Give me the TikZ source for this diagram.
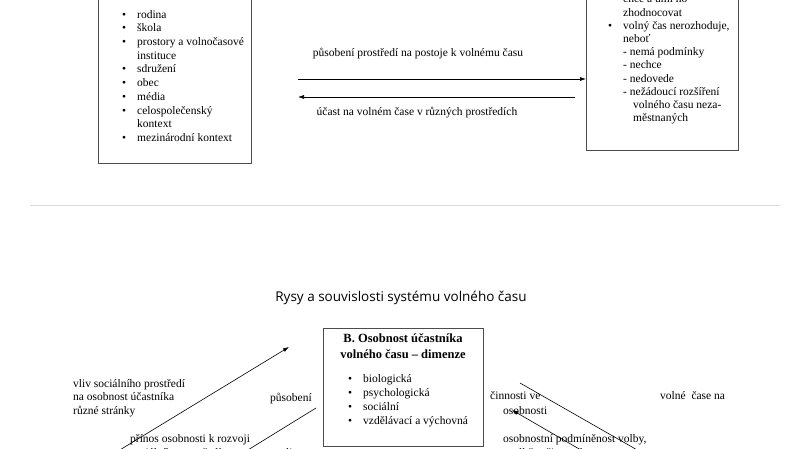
\documentclass[tikz,border=0pt]{standalone}
\usepackage{fontspec}
\setmainfont{Liberation Serif}
\newfontfamily\titlefont{Open Sans}
\usetikzlibrary{arrows.meta}
\newcommand\bitem{\makebox[15pt][l]{\textbullet}}
\newcommand\bcont{\hspace{15pt}}
\begin{document}
\begin{tikzpicture}[
    x=1pt, y=-1pt,
    box/.style={draw=black!70, line width=0.9pt, inner sep=0pt, anchor=north west},
    txt/.style={font=\fontsize{11.5}{13.7}\selectfont, inner sep=0pt, align=left, anchor=base west},
    arr/.style={-{Latex[length=6pt,width=4pt]}, line width=0.6pt},
]
    \path[use as bounding box, clip] (0,0) rectangle (800,449);
    \fill[white] (0,0) rectangle (800,449);

    % Upper part: environment and activity
    % (multi-line texts are placed by the baseline of their last line)
    \node[box, minimum width=153pt, minimum height=183pt] (envbox) at (98,-20) {};
    \node[txt] (envlist) at (122,141.5) {\bitem rodina\\ \bitem škola\\
        \bitem prostory a volnočasové\\ \bcont instituce\\ \bitem sdružení\\
        \bitem obec\\ \bitem média\\ \bitem celospolečenský\\ \bcont kontext\\
        \bitem mezinárodní kontext};

    \node[box, minimum width=152pt, minimum height=170pt] (actbox) at (586,-20) {};
    \node[txt, font=\fontsize{11.5}{13.2}\selectfont] (actlist) at (608,121.8) {\bitem chce a umí ho\\
        \bcont zhodnocovat\\ \bitem volný čas nerozhoduje,\\ \bcont neboť\\
        \bcont - nemá podmínky\\ \bcont - nechce\\ \bcont - nedovede\\
        \bcont - nežádoucí rozšíření\\ \bcont\hspace{10pt}volného času neza-\\
        \bcont\hspace{10pt}městnaných};

    \coordinate (effstart) at (298,79);
    \coordinate (partstart) at (575,97);
    \draw[arr] (effstart) -- (effstart -| actbox.west);
    \draw[arr] (partstart) -- (partstart -| effstart);
    \node[txt, anchor=base] (efflabel) at (418,57) {působení prostředí na postoje k volnému času};
    \node[txt, anchor=base] (partlabel) at (417,116) {účast na volném čase v různých prostředích};

    % Separator
    \draw[black!15, line width=0.8pt] (30,205) -- (780,205);

    % Lower part: features of the system
    \node[font=\titlefont\fontsize{13.5}{16}\selectfont, inner sep=0pt, anchor=base] (title) at (401,301)
        {Rysy a souvislosti systému volného času};

    \node[box, minimum width=160pt, minimum height=118pt] (persbox) at (323,328) {};
    \node[font=\bfseries\fontsize{12.5}{16}\selectfont, inner sep=0pt, align=center, anchor=base] (perstitle)
        at (403,358) {B. Osobnost účastníka\\ volného času – dimenze};
    \node[txt, font=\fontsize{11.5}{14.3}\selectfont] (perslist) at (348,424.9) {\bitem biologická\\
        \bitem psychologická\\ \bitem sociální\\ \bitem vzdělávací a výchovná};

    \node[txt] (socinfl) at (73,414.4) {vliv sociálního prostředí\\ na osobnost účastníka\\ různé stránky};
    \node[txt] (effect) at (270,401) {působení};
    \node[txt, font=\fontsize{11.5}{14}\selectfont] (contrib) at (130,456) {přínos osobnosti k rozvoji\\ sociálního prostředí};
    \node[txt] (realiz) at (272,456) {realizace};

    \node[txt] (actin) at (490,399) {činnosti ve};
    \node[txt] (freetime) at (660,399) {volné\ \ čase na};
    \node[txt] (persof) at (503,414) {osobnosti};
    \node[txt, font=\fontsize{11.5}{14}\selectfont] (choice) at (503,456) {osobnostní podmíněnost volby,\\ a výběru činností ve};

    \coordinate (infl1) at (100,462);
    \coordinate (infl2) at (289,347);
    \coordinate (back1) at (316,408);
    \coordinate (back2) at (230,461);
    \coordinate (act1) at (520,383);
    \coordinate (act2) at (653,459);
    \coordinate (cond1) at (593,457);
    \coordinate (cond2) at (512,410);
    \draw[arr] (infl1) -- (infl2);
    \draw[arr] (back1) -- (back2);
    \draw[arr] (act1) -- (act2);
    \draw[arr] (cond1) -- (cond2);
\end{tikzpicture}
\end{document}
